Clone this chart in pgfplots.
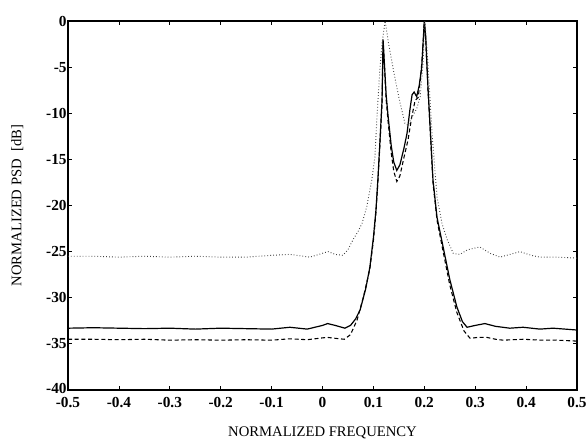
\documentclass[border=0pt]{standalone}
\usepackage{pgfplots}
\pgfplotsset{compat=1.18}
\usepackage{fontspec}
\setmainfont{Liberation Serif}
\begin{document}
\begin{tikzpicture}
\begin{axis}[
  name=ax,
  scale only axis,
  width=381.75pt, height=276.75pt,
  xmin=-0.5, xmax=0.5, ymin=-40, ymax=0,
  xtick={-0.5,-0.4,-0.3,-0.2,-0.1,0,0.1,0.2,0.3,0.4,0.5},
  xticklabels={-0.5,-0.4,-0.3,-0.2,-0.1,0,0.1,0.2,0.3,0.4,0.5},
  ytick={-40,-35,-30,-25,-20,-15,-10,-5,0},
  yticklabels={\raisebox{2pt}{-40},-35,-30,-25,-20,-15,-10,-5,0},
  tick align=inside,
  major tick length=3pt,
  tick style={black, line width=0.6pt},
  axis line style={line width=0.8pt},
  ticklabel style={font=\fontsize{11.5}{13}\selectfont\bfseries},
  xticklabel style={yshift=-2pt},
  yticklabel style={xshift=2.5pt},
  xlabel={NORMALIZED FREQUENCY},
  ylabel={NORMALIZED PSD\ \ [dB]},
  label style={font=\fontsize{11}{13}\selectfont},
  xlabel style={at={(axis description cs:0.5,-0.1156)}, anchor=center},
  ylabel style={at={(axis description cs:-0.0995,0.5)}, anchor=center},
]
% solid
\addplot[black, line width=0.9pt] coordinates {
(-0.5,-33.3) (-0.45,-33.25) (-0.4,-33.3) (-0.35,-33.35) (-0.3,-33.3) (-0.25,-33.4)
(-0.2,-33.3) (-0.15,-33.35) (-0.1,-33.4) (-0.064,-33.2) (-0.03,-33.4) (0.0,-33.0)
(0.01,-32.8) (0.025,-33.0) (0.044,-33.3) (0.055,-33.0) (0.065,-32.3) (0.074,-31.3)
(0.085,-29.0) (0.093,-26.7) (0.1,-23.5) (0.105,-20.5) (0.109,-17) (0.113,-12.9)
(0.117,-8.6) (0.119,-2.0) (0.121,-4) (0.125,-8.0) (0.129,-10.4) (0.135,-13.5)
(0.14,-15.3) (0.146,-16.2) (0.152,-15.6) (0.16,-13.8) (0.166,-12.2) (0.172,-9.5)
(0.176,-8.0) (0.18,-7.7) (0.185,-8.2) (0.19,-7.0) (0.195,-5.0) (0.2,0)
(0.203,-2) (0.207,-7) (0.212,-12) (0.217,-17.2) (0.225,-21.3) (0.237,-24.5)
(0.25,-28.0) (0.264,-31.0) (0.275,-32.6) (0.284,-33.2) (0.3,-33.0) (0.319,-32.8)
(0.34,-33.1) (0.368,-33.3) (0.394,-33.2) (0.427,-33.4) (0.453,-33.3) (0.5,-33.5)
};
% dashed
\addplot[black, line width=0.8pt, dash pattern=on 3pt off 2pt] coordinates {
(-0.5,-34.5) (-0.45,-34.5) (-0.4,-34.55) (-0.35,-34.5) (-0.3,-34.6) (-0.25,-34.55)
(-0.2,-34.6) (-0.15,-34.55) (-0.1,-34.6) (-0.064,-34.45) (-0.03,-34.55) (0.0,-34.35)
(0.01,-34.3) (0.025,-34.4) (0.043,-34.5) (0.055,-34.0) (0.068,-32.4) (0.08,-30.0)
(0.093,-26.9) (0.1,-23.8) (0.105,-20.8) (0.109,-17.3) (0.113,-13.2) (0.117,-8.8)
(0.119,-2.2) (0.121,-4.3) (0.125,-8.5) (0.129,-11.0) (0.135,-14.3) (0.14,-16.3)
(0.146,-17.4) (0.152,-16.8) (0.16,-14.8) (0.168,-12.9) (0.175,-10.5) (0.182,-8.6)
(0.188,-8.3) (0.193,-6.0) (0.197,-3.1) (0.2,0) (0.203,-2.2) (0.207,-7.3)
(0.212,-12.3) (0.217,-17.5) (0.225,-21.6) (0.237,-25.0) (0.25,-28.6) (0.264,-31.6)
(0.278,-33.6) (0.29,-34.4) (0.305,-34.3) (0.323,-34.3) (0.34,-34.5) (0.355,-34.6)
(0.394,-34.5) (0.43,-34.6) (0.46,-34.6) (0.5,-34.7)
};
% dotted
\addplot[black!75, line width=0.7pt, dash pattern=on 0.6pt off 1.6pt] coordinates {
(-0.5,-25.5) (-0.45,-25.5) (-0.4,-25.6) (-0.35,-25.5) (-0.3,-25.6) (-0.25,-25.5)
(-0.2,-25.6) (-0.15,-25.6) (-0.1,-25.4) (-0.064,-25.3) (-0.025,-25.6) (0.011,-25.0)
(0.025,-25.3) (0.04,-25.4) (0.05,-24.8) (0.06,-23.7) (0.07,-22.8) (0.078,-21.9)
(0.087,-20.1) (0.097,-17.2) (0.103,-14.7) (0.107,-10.4) (0.113,-5.0) (0.117,-2.4)
(0.123,0) (0.13,-2.5) (0.142,-6.1) (0.152,-8.8) (0.162,-11.1) (0.168,-11.3)
(0.175,-10.5) (0.185,-9.5) (0.192,-8.2) (0.197,-5.0) (0.201,0) (0.204,-2.0)
(0.207,-4.6) (0.215,-12.0) (0.225,-19.1) (0.235,-22.0) (0.245,-23.7) (0.257,-25.2)
(0.27,-25.3) (0.285,-24.8) (0.309,-24.5) (0.33,-25.2) (0.349,-25.6) (0.368,-25.3)
(0.388,-25.0) (0.41,-25.4) (0.427,-25.6) (0.46,-25.6) (0.5,-25.7)
};
\end{axis}
\pgfresetboundingbox
\path ([shift={(-51pt,-42.75pt)}]ax.south west) rectangle ([shift={(7.5pt,15.75pt)}]ax.north east);
\end{tikzpicture}
\end{document}
